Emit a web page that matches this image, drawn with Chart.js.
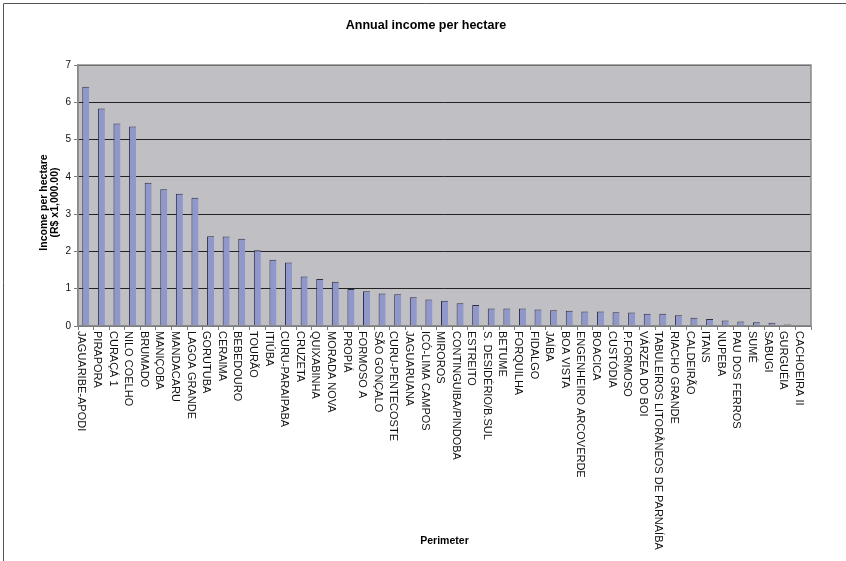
<!DOCTYPE html>
<html>
<head>
<meta charset="utf-8">
<script src="https://cdn.jsdelivr.net/npm/chart.js@4.4.1/dist/chart.umd.min.js"></script>
<style>
html,body{margin:0;padding:0;background:#fff;}
#wrap{width:846px;height:561px;position:relative;}
</style>
</head>
<body>
<div id="wrap"><canvas id="c" width="846" height="561"></canvas></div>
<script>
const chartTitle = 'Annual income per hectare';
const yTitleLines = ['Income per hectare', '(R$ x1,000.00)'];
const xTitle = 'Perimeter';

const categories = [
  'JAGUARIBE-APODI', 'PIRAPORA', 'CURAÇÁ 1', 'NILO COELHO', 'BRUMADO', 'MANIÇOBA',
  'MANDACARU', 'LAGOA GRANDE', 'GORUTUBA', 'CERAIMA', 'BEBEDOURO', 'TOURÃO',
  'ITIÚBA', 'CURU-PARAIPABA', 'CRUZETA', 'QUIXABINHA', 'MORADA NOVA', 'PROPIÁ',
  'FORMOSO A', 'SÃO GONÇALO', 'CURU-PENTECOSTE', 'JAGUARUANA', 'ICÓ-LIMA CAMPOS',
  'MIROROS', 'CONTINGUIBA/PINDOBA', 'ESTREITO', 'S. DESIDÉRIO/B.SUL', 'BETUME',
  'FORQUILHA', 'FIDALGO', 'JAÍBA', 'BOA VISTA', 'ENGENHEIRO ARCOVERDE', 'BOACICA',
  'CUSTÓDIA', 'P.FORMOSO', 'VÁRZEA DO BOI', 'TABULEIROS LITORÂNEOS DE PARNAÍBA',
  'RIACHO GRANDE', 'CALDEIRÃO', 'ITANS', 'NUPEBA', 'PAU DOS FERROS', 'SUMÉ',
  'SABUGI', 'GURGUÉIA', 'CACHOEIRA II'
];

const values = [
  6.42, 5.83, 5.43, 5.35, 3.84, 3.67,
  3.55, 3.44, 2.41, 2.40, 2.34, 2.03,
  1.78, 1.70, 1.33, 1.26, 1.19, 0.99,
  0.93, 0.87, 0.85, 0.77, 0.71,
  0.68, 0.61, 0.56, 0.47, 0.47,
  0.47, 0.44, 0.42, 0.41, 0.39, 0.39,
  0.37, 0.36, 0.33, 0.33,
  0.29, 0.22, 0.19, 0.15, 0.12, 0.10,
  0.09, 0.04, 0.02
];

const yTickValues = [0, 1, 2, 3, 4, 5, 6, 7];

const FAMILY = '"Liberation Sans", Arial, Helvetica, sans-serif';

const decor = {
  id: 'decor',
  beforeDraw(chart) {
    const { ctx, chartArea: a } = chart;
    ctx.save();
    ctx.fillStyle = '#ffffff';
    ctx.fillRect(0, 0, chart.width, chart.height);
    // outer frame (cut off at right and bottom)
    ctx.strokeStyle = '#555555';
    ctx.lineWidth = 1;
    ctx.beginPath();
    ctx.moveTo(3.5, chart.height + 5);
    ctx.lineTo(3.5, 3.5);
    ctx.lineTo(chart.width + 5, 3.5);
    ctx.stroke();
    // plot area background
    ctx.fillStyle = '#c0c0c4';
    ctx.fillRect(a.left, a.top, a.right - a.left, a.bottom - a.top);
    ctx.restore();
  },
  afterDraw(chart) {
    const { ctx, chartArea: a } = chart;
    const xs = chart.scales.x;
    ctx.save();
    // plot border
    ctx.strokeStyle = '#8a8a8a';
    ctx.lineWidth = 1.5;
    ctx.strokeRect(a.left, a.top, a.right - a.left, a.bottom - a.top);

    // category labels, rotated to read top-to-bottom
    ctx.fillStyle = '#111111';
    ctx.font = '11px ' + FAMILY;
    ctx.textAlign = 'left';
    ctx.textBaseline = 'alphabetic';
    categories.forEach((c, i) => {
      const px = xs.getPixelForValue(i);
      ctx.save();
      ctx.translate(px - 7.4, a.bottom + 5);
      ctx.rotate(Math.PI / 2);
      ctx.fillText(c, 0, 0);
      ctx.restore();
    });

    // chart title
    ctx.font = 'bold 12.5px ' + FAMILY;
    ctx.textAlign = 'center';
    ctx.fillStyle = '#000000';
    ctx.fillText(chartTitle, 426, 29.3);

    // x axis title
    ctx.font = 'bold 10.5px ' + FAMILY;
    ctx.fillText(xTitle, (a.left + a.right) / 2, 543.5);

    // y axis title (two lines, rotated)
    const yc = 202.5;
    const bases = [47, 58];
    yTitleLines.forEach((t, i) => {
      ctx.save();
      ctx.translate(bases[i], yc);
      ctx.rotate(-Math.PI / 2);
      ctx.fillText(t, 0, 0);
      ctx.restore();
    });
    ctx.restore();
  }
};

new Chart(document.getElementById('c'), {
  type: 'bar',
  data: {
    labels: categories,
    datasets: [{
      data: values,
      backgroundColor: '#8f97cb',
      borderColor: '#2e2e44',
      borderWidth: { left: 1, top: 1, right: 0, bottom: 0 },
      borderSkipped: 'start',
      barPercentage: 0.45,
      categoryPercentage: 1.0
    }]
  },
  options: {
    responsive: false,
    animation: false,
    devicePixelRatio: 1,
    layout: { padding: { left: 0, right: 35, top: 65, bottom: 0 } },
    plugins: {
      legend: { display: false },
      title: { display: false },
      tooltip: { enabled: false }
    },
    scales: {
      x: {
        type: 'category',
        offset: true,
        ticks: { display: false },
        grid: {
          display: true,
          drawOnChartArea: false,
          drawTicks: true,
          tickLength: 4,
          tickColor: '#7a7a7a',
          offset: true
        },
        border: { display: true, color: '#8a8a8a', width: 1.5 },
        afterFit(s) { s.height = 235; }
      },
      y: {
        min: 0,
        max: 7,
        afterBuildTicks(s) { s.ticks = yTickValues.map(v => ({ value: v })); },
        ticks: {
          padding: 3,
          color: '#111111',
          font: { size: 10, family: FAMILY },
          callback: v => String(v)
        },
        grid: {
          color: '#222222',
          lineWidth: 1,
          tickLength: 4,
          tickColor: '#7a7a7a'
        },
        border: { display: true, color: '#8a8a8a', width: 1.5 },
        afterFit(s) { s.width = 78; }
      }
    }
  },
  plugins: [decor]
});
</script>
</body>
</html>
